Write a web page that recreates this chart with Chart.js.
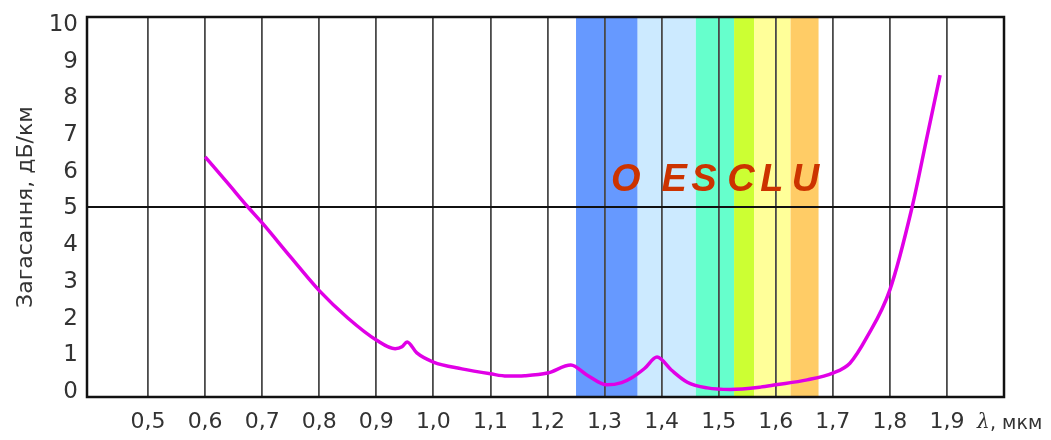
<!DOCTYPE html>
<html><head><meta charset="utf-8">
<script src="https://cdn.jsdelivr.net/npm/chart.js@4/dist/chart.umd.min.js"></script>
<style>html,body{margin:0;padding:0;background:#fff;}#wrap{width:1051px;height:440px;}</style>
</head><body><div id="wrap"><canvas id="c" width="1051" height="440"></canvas></div>
<script>
const wavelength = [0.600,0.640,0.675,0.700,0.750,0.800,0.850,0.900,0.933,0.945,0.954,0.971,1.000,1.050,1.100,1.129,1.160,1.200,1.241,1.269,1.304,1.330,1.347,1.370,1.392,1.417,1.445,1.480,1.520,1.573,1.600,1.655,1.700,1.730,1.760,1.800,1.839,1.865,1.888];
const attenuation = [6.32,5.62,5.00,4.58,3.68,2.80,2.08,1.50,1.27,1.32,1.45,1.16,0.92,0.74,0.61,0.55,0.56,0.63,0.84,0.58,0.32,0.38,0.50,0.75,1.05,0.71,0.39,0.24,0.20,0.26,0.32,0.45,0.63,0.89,1.58,2.82,5.00,6.84,8.47];
const bandStart = [1.25,1.358,1.46,1.527,1.562,1.626];
const bandEnd   = [1.358,1.46,1.527,1.562,1.626,1.675];
const bandColor = ['#6699ff','#cceaff','#66ffcc','#ccff33','#ffff99','#ffcc66'];
const bandLetter = ['O','E','S','C','L','U'];
const letterPos = [1.337,1.422,1.474,1.539,1.593,1.652];
const xTicks = [0.5,0.6,0.7,0.8,0.9,1.0,1.1,1.2,1.3,1.4,1.5,1.6,1.7,1.8,1.9];
const yTicks = [0,1,2,3,4,5,6,7,8,9,10];

const FONT = '"Liberation Sans", Arial, sans-serif';
const TFONT = '"DejaVu Sans", sans-serif';
const bandsPlugin = {
  id:'bands',
  beforeDraw(chart){
    const {ctx, chartArea:a, scales:{x}} = chart;
    ctx.save();
    for(let i=0;i<bandStart.length;i++){
      const x0 = x.getPixelForValue(bandStart[i]), x1 = x.getPixelForValue(bandEnd[i]);
      ctx.fillStyle = bandColor[i];
      ctx.fillRect(x0, a.top, x1-x0, a.bottom-a.top);
    }
    ctx.restore();
  },
  afterDatasetsDraw(chart){
    const {ctx, chartArea:a, scales:{x}} = chart;
    ctx.save();
    ctx.fillStyle = '#cc3300';
    ctx.font = 'italic bold 38px ' + FONT;
    ctx.textAlign = 'center';
    ctx.textBaseline = 'alphabetic';
    for(let i=0;i<bandLetter.length;i++){
      ctx.fillText(bandLetter[i], x.getPixelForValue(letterPos[i]), 191);
    }
    ctx.strokeStyle = '#111';
    ctx.lineWidth = 2.5;
    ctx.strokeRect(a.left, a.top, a.right-a.left, a.bottom-a.top);
    ctx.fillStyle = '#333';
    ctx.textAlign = 'left';
    ctx.textBaseline = 'middle';
    ctx.font = 'italic 20px "DejaVu Serif", serif';
    ctx.fillText('λ', 977, 423);
    ctx.font = '19px ' + TFONT;
    ctx.fillText(', мкм', 990, 424);
    ctx.restore();
  }
};
function noPad(s){ s.paddingTop = 0; s.paddingBottom = 0; s.paddingLeft = 0; s.paddingRight = 0; }

new Chart(document.getElementById('c'), {
  type:'scatter',
  data:{datasets:[{
    data: wavelength.map((v,i)=>({x:v,y:attenuation[i]})),
    yAxisID:'y', xAxisID:'x',
    showLine:true, borderColor:'#e000e6', borderWidth:3.5, pointRadius:0,
    cubicInterpolationMode:'monotone', fill:false
  }]},
  options:{
    responsive:false, animation:false,
    layout:{padding:{top:17,right:47,left:0,bottom:0}},
    plugins:{legend:{display:false},tooltip:{enabled:false}},
    scales:{
      x:{type:'linear',min:0.393,max:2.0,
        afterBuildTicks(s){ s.ticks = xTicks.map(v=>({value:v})); },
        afterFit(s){ s.height = 43; noPad(s); },
        grid:{color:'#4a4a4a', lineWidth:1.8, drawTicks:false},
        border:{display:false},
        ticks:{padding:12, color:'#333', font:{family:TFONT,size:22},
          callback:(v)=> v.toFixed(1).replace('.',',')}
      },
      y:{min:0,max:10,position:'left',
        afterBuildTicks(s){ s.ticks = [{value:5}]; },
        afterFit(s){ s.width = 0; noPad(s); },
        grid:{color:'#111', lineWidth:2, drawTicks:false},
        border:{display:false},
        ticks:{display:false}
      },
      yl:{min:-0.136,max:10.218,position:'left',
        afterBuildTicks(s){ s.ticks = yTicks.map(v=>({value:v})); },
        afterFit(s){ s.width = 87; noPad(s); },
        grid:{display:false, drawTicks:false},
        border:{display:false},
        ticks:{padding:9, color:'#333', font:{family:TFONT,size:23}},
        title:{display:true,text:'Загасання, дБ/км',color:'#333',font:{family:TFONT,size:22},padding:{top:13,bottom:0}}
      }
    }
  },
  plugins:[bandsPlugin]
});
</script></body></html>
